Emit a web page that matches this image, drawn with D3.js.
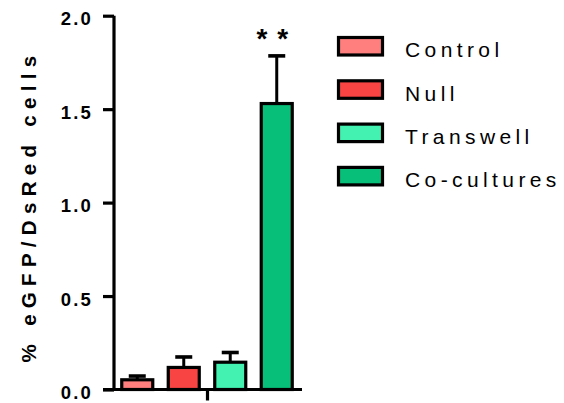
<!DOCTYPE html>
<html>
<head>
<meta charset="utf-8">
<script src="https://cdn.jsdelivr.net/npm/d3@7"></script>
<style>
  html, body { margin: 0; padding: 0; background: #fff; }
  svg { display: block; font-family: "Liberation Sans", Arial, sans-serif; }
</style>
</head>
<body>
<svg id="chart" width="564" height="403"></svg>
<script>
const categories = ["Control", "Null", "Transwell", "Co-cultures"];
const means = [0.052, 0.118, 0.146, 1.53];
const errors = [0.02, 0.056, 0.052, 0.255];
const colors = ["#FF7F7F", "#F94444", "#43F2B1", "#07BF78"];
const yTicks = [0, 0.5, 1.0, 1.5, 2.0];
const yLabel = "% eGFP/DsRed cells";
const significance = ["", "", "", "* *"];

const svg = d3.select("#chart");
const y = d3.scaleLinear().domain([0, 2]).range([389.5, 15.7]);
const x = d3.scaleBand().domain(categories).range([114, 300])
  .paddingInner(0.333).paddingOuter(0.1667);

const data = categories.map((c, i) => ({ c, m: means[i], e: errors[i], col: colors[i], sig: significance[i] }));

// bars
svg.append("g").selectAll("rect").data(data).join("rect")
  .attr("x", d => x(d.c))
  .attr("width", x.bandwidth())
  .attr("y", d => y(d.m))
  .attr("height", d => y(0) - y(d.m))
  .attr("fill", d => d.col)
  .attr("stroke", "#000")
  .attr("stroke-width", 3.2);

// error bars (upward)
const eb = svg.append("g").attr("stroke", "#000");
eb.selectAll("line.v").data(data).join("line").attr("class", "v")
  .attr("x1", d => x(d.c) + x.bandwidth() / 2)
  .attr("x2", d => x(d.c) + x.bandwidth() / 2)
  .attr("y1", d => y(d.m))
  .attr("y2", d => y(d.m + d.e))
  .attr("stroke-width", 3);
eb.selectAll("line.cap").data(data).join("line").attr("class", "cap")
  .attr("x1", d => x(d.c) + x.bandwidth() / 2 - 8.5)
  .attr("x2", d => x(d.c) + x.bandwidth() / 2 + 8.5)
  .attr("y1", d => y(d.m + d.e))
  .attr("y2", d => y(d.m + d.e))
  .attr("stroke-width", 3.6);

// significance
svg.append("g").selectAll("text").data(data.filter(d => d.sig)).join("text")
  .attr("x", d => x(d.c) + x.bandwidth() / 2 - 4)
  .attr("y", d => y(d.m + d.e) - 8)
  .attr("text-anchor", "middle")
  .attr("font-size", 28)
  .attr("font-weight", "bold")
  .attr("letter-spacing", "1px")
  .text(d => d.sig);

// y axis
const yAxis = svg.append("g").attr("transform", "translate(114,0)")
  .call(d3.axisLeft(y).tickValues(yTicks).tickFormat(d3.format(".1f")).tickSize(11).tickPadding(10));
yAxis.select(".domain").attr("stroke-width", 3.2).attr("d", `M0,${y(2)}V${y(0)}`);
yAxis.selectAll(".tick line").attr("stroke-width", 3.2);
yAxis.selectAll(".tick text")
  .attr("font-size", 18.5).attr("font-weight", "bold").attr("fill", "#000")
  .attr("font-family", "'Liberation Sans', Arial, sans-serif")
  .attr("letter-spacing", "2.2px")
  .attr("dy", "0.5em");

// x axis
const xAxisG = svg.append("g");
xAxisG.append("line")
  .attr("x1", 103).attr("x2", 302)
  .attr("y1", y(0)).attr("y2", y(0))
  .attr("stroke", "#000").attr("stroke-width", 3.2);
xAxisG.append("line")
  .attr("x1", (x.range()[0] + x.range()[1]) / 2 + 0.5)
  .attr("x2", (x.range()[0] + x.range()[1]) / 2 + 0.5)
  .attr("y1", y(0)).attr("y2", y(0) + 11)
  .attr("stroke", "#000").attr("stroke-width", 3.2);

// y label
svg.append("text")
  .attr("transform", "translate(35.5,206) rotate(-90)")
  .attr("text-anchor", "middle")
  .attr("font-size", 20.5)
  .attr("font-weight", "bold")
  .attr("letter-spacing", "6.3px")
  .text(yLabel);

// legend
const lg = svg.append("g").selectAll("g").data(data).join("g")
  .attr("transform", (d, i) => `translate(338.5,${37.5 + i * 43.3})`);
lg.append("rect")
  .attr("width", 44).attr("height", 17.5)
  .attr("fill", d => d.col)
  .attr("stroke", "#000").attr("stroke-width", 3.2);
lg.append("text")
  .attr("x", 66.5).attr("y", 19.8)
  .attr("font-size", 21)
  .attr("letter-spacing", "4.4px")
  .attr("fill", "#000")
  .text(d => d.c);
</script>
</body>
</html>
